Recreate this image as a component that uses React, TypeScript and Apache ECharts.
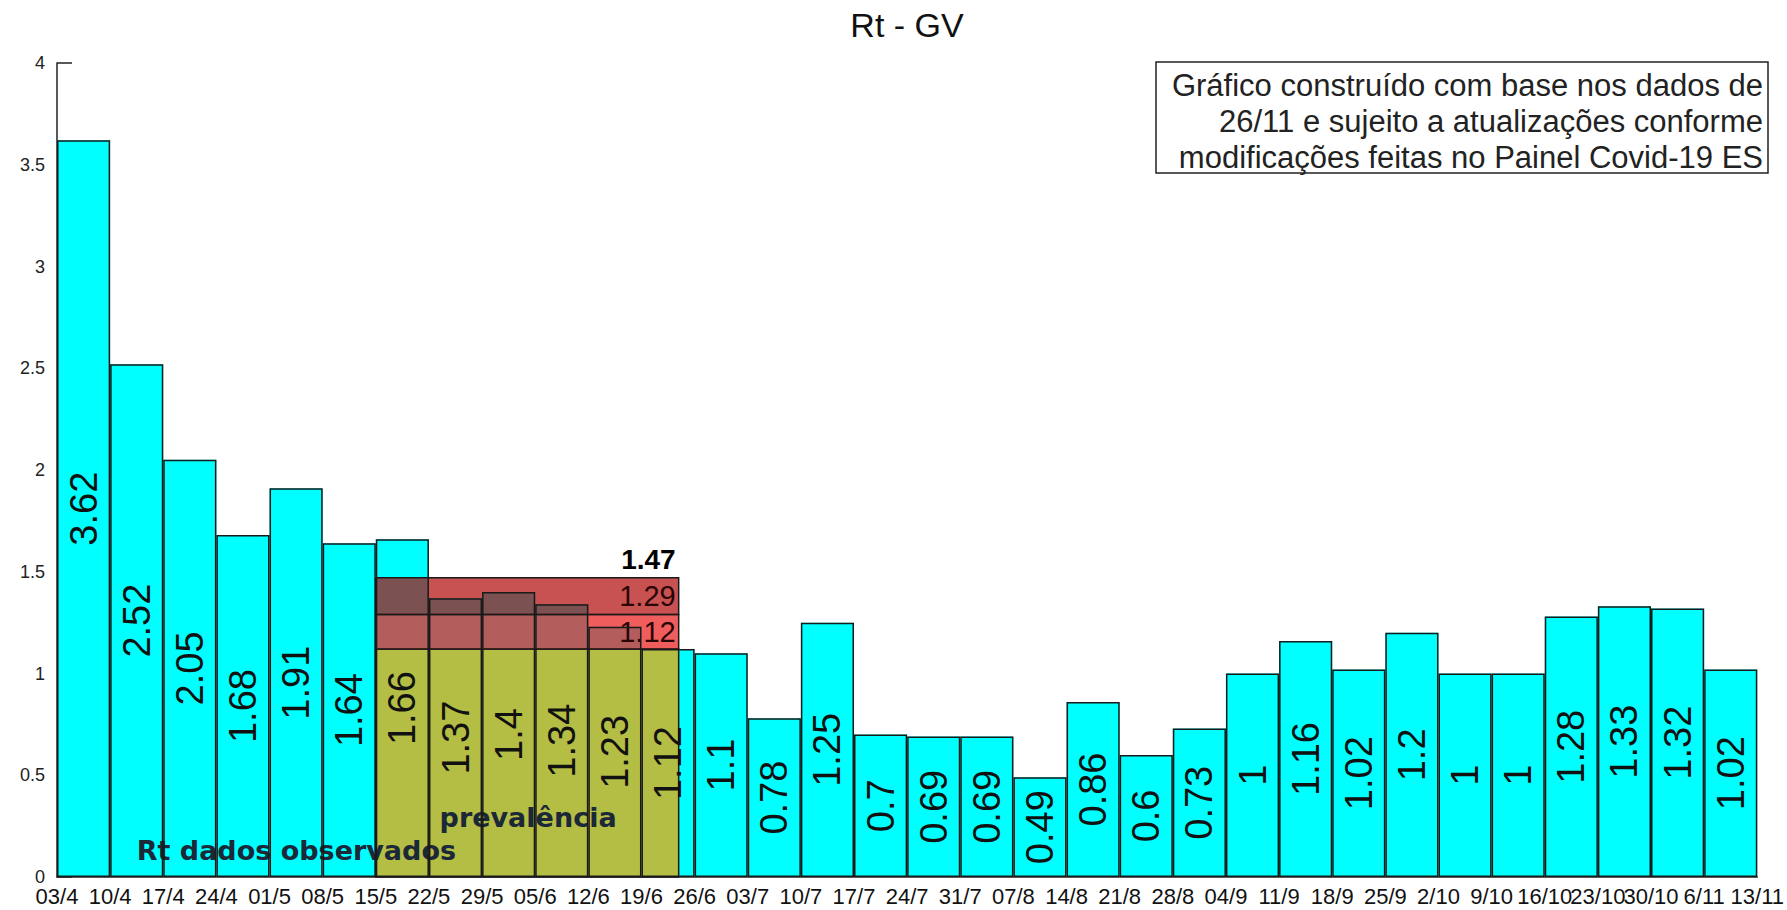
import React, { useEffect, useRef } from 'react';
import * as echarts from 'echarts';

// ---- data ----
const dateLabels = [
  '03/4', '10/4', '17/4', '24/4', '01/5', '08/5', '15/5', '22/5', '29/5', '05/6', '12/6',
  '19/6', '26/6', '03/7', '10/7', '17/7', '24/7', '31/7', '07/8', '14/8', '21/8', '28/8',
  '04/9', '11/9', '18/9', '25/9', '2/10', '9/10', '16/10', '23/10', '30/10', '6/11', '13/11',
];
const rtValues = [
  3.62, 2.52, 2.05, 1.68, 1.91, 1.64, 1.66, 1.37, 1.4, 1.34, 1.23, 1.12, 1.1, 0.78, 1.25, 0.7,
  0.69, 0.69, 0.49, 0.86, 0.6, 0.73, 1, 1.16, 1.02, 1.2, 1, 1, 1.28, 1.33, 1.32, 1.02,
];
// prevalence band: x-range (in week units) and levels (low, mid, high)
const prevRange = [6, 11.7];
const prevLevels = [1.12, 1.29, 1.47];
const yTicks = { min: 0, max: 4, interval: 0.5 };
const titleText = 'Rt - GV';
const noteLines = [
  'Gráfico construído com base nos dados de',
  '26/11 e sujeito a atualizações conforme',
  'modificações feitas no Painel Covid-19 ES',
];
const obsLabel = 'Rt dados observados';
const prevLabel = 'prevalência';

const SANS = '"Liberation Sans", Arial, sans-serif';
const BOLD_FONT = '"DejaVu Sans", "Liberation Sans", sans-serif';
const EDGE = '#1a1a1a';

export default function App() {
  const ref = useRef<HTMLDivElement>(null);

  useEffect(() => {
    if (!ref.current) return;
    const chart = echarts.init(ref.current, null, { renderer: 'svg' });
    const cats = rtValues.map((_, i) => String(i));

    const renderOverlay = (params: any, api: any) => {
      const x0 = api.value(0);
      const x1 = api.value(1);
      const [lo, mid, hi] = prevLevels;
      const rect = (ya: number, yb: number, fill: string) => {
        const p0 = api.coord([x0, yb]);
        const p1 = api.coord([x1, ya]);
        return {
          type: 'rect',
          shape: { x: p0[0], y: p0[1], width: p1[0] - p0[0], height: p1[1] - p0[1] },
          style: { fill, stroke: EDGE, lineWidth: 1.5 },
        };
      };
      const right = api.coord([x1, 0])[0] - 3;
      const yHi = api.coord([x0, hi])[1];
      const yMidBand = api.coord([x0, (mid + hi) / 2])[1];
      const yLowBand = api.coord([x0, (lo + mid) / 2])[1];
      const obsPos = api.coord([1.5, 0.13]);
      const prevPos = api.coord([7.2, 0.29]);
      return {
        type: 'group',
        children: [
          rect(0, lo, '#b4bd44'),
          rect(lo, mid, 'rgba(235,42,42,0.76)'),
          rect(mid, hi, 'rgba(177,7,7,0.70)'),
          {
            type: 'text', x: right, y: yHi - 4,
            style: { text: hi.toString(), fill: '#000', font: `bold 28px ${SANS}`, align: 'right', verticalAlign: 'bottom' },
          },
          {
            type: 'text', x: right, y: yMidBand,
            style: { text: mid.toString(), fill: '#2a0606', font: `29px ${SANS}`, align: 'right', verticalAlign: 'middle' },
          },
          {
            type: 'text', x: right, y: yLowBand,
            style: { text: lo.toString(), fill: '#2a0606', font: `29px ${SANS}`, align: 'right', verticalAlign: 'middle' },
          },
          {
            type: 'text', x: obsPos[0], y: obsPos[1],
            style: { text: obsLabel, fill: '#1b2838', font: `bold 27px ${BOLD_FONT}`, align: 'left', verticalAlign: 'middle' },
          },
          {
            type: 'text', x: prevPos[0], y: prevPos[1],
            style: { text: prevLabel, fill: '#1b2838', font: `bold 27px ${BOLD_FONT}`, align: 'left', verticalAlign: 'middle' },
          },
        ],
      };
    };

    chart.setOption({
      animation: false,
      backgroundColor: '#ffffff',
      grid: { left: 57, right: 24, top: 63, bottom: 33, containLabel: false },
      xAxis: [
        { type: 'category', data: cats, show: false, boundaryGap: true },
        {
          type: 'value',
          min: 0,
          max: rtValues.length,
          interval: 1,
          position: 'bottom',
          splitLine: { show: false },
          axisTick: { show: false },
          axisLine: { show: true, onZero: false, lineStyle: { color: '#222', width: 1.5 } },
          axisLabel: {
            formatter: (v: number) => dateLabels[Math.round(v)] ?? '',
            fontSize: 22,
            fontFamily: SANS,
            color: '#111',
            margin: 8,
            showMinLabel: true,
            showMaxLabel: true,
            hideOverlap: false,
          },
        },
      ],
      yAxis: {
        type: 'value',
        min: yTicks.min,
        max: yTicks.max,
        interval: yTicks.interval,
        axisLine: { show: true, lineStyle: { color: '#222', width: 1.5 } },
        axisTick: { show: true, inside: true, length: 15, lineStyle: { color: '#222', width: 1.5 } },
        splitLine: { show: false },
        axisLabel: { fontSize: 18, fontFamily: SANS, color: '#222', margin: 12 },
      },
      graphic: [
        {
          type: 'text',
          x: 907,
          y: 25,
          style: { text: titleText, fill: '#111', font: `34px ${SANS}`, align: 'center', verticalAlign: 'middle' },
        },
        {
          type: 'rect',
          shape: { x: 1156, y: 62, width: 612, height: 111 },
          style: { fill: '#fff', stroke: '#222', lineWidth: 1.5 },
          z: 10,
        },
        {
          type: 'text',
          x: 1763,
          y: 67,
          z: 11,
          style: {
            text: noteLines.join('\n'),
            fill: '#222',
            font: `31px ${SANS}`,
            lineHeight: 36,
            align: 'right',
            verticalAlign: 'top',
          },
        },
      ],
      series: [
        {
          type: 'bar',
          xAxisIndex: 0,
          data: rtValues,
          barWidth: '100%',
          barGap: '-100%',
          barCategoryGap: '0%',
          itemStyle: { color: '#00ffff', borderWidth: 0 },
          z: 2,
        },
        {
          type: 'custom',
          xAxisIndex: 1,
          yAxisIndex: 0,
          data: [prevRange],
          renderItem: renderOverlay,
          z: 3,
          clip: false,
        },
        {
          type: 'bar',
          xAxisIndex: 0,
          data: rtValues,
          barWidth: '100%',
          barGap: '-100%',
          barCategoryGap: '0%',
          itemStyle: { color: 'rgba(0,0,0,0)', borderColor: EDGE, borderWidth: 1.5 },
          label: {
            show: true,
            position: 'inside',
            rotate: 90,
            fontSize: 38,
            fontFamily: SANS,
            color: '#111',
            formatter: (p: any) => String(p.value),
          },
          z: 4,
        },
      ],
    });

    return () => chart.dispose();
  }, []);

  return (
    <div
      ref={ref}
      style={{ position: 'fixed', left: 0, top: 0, width: 1787, height: 910, background: '#fff' }}
    />
  );
}
